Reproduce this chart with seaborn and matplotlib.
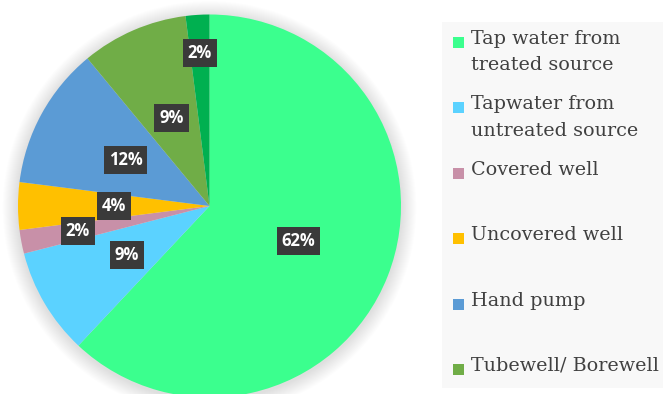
import matplotlib
matplotlib.use("Agg")
import matplotlib.pyplot as plt
from matplotlib.patches import Rectangle, Circle
import numpy as np
import seaborn as sns

categories = ["Tap water from\ntreated source", "Tapwater from\nuntreated source",
              "Covered well", "Uncovered well", "Hand pump", "Tubewell/ Borewell", "Others"]
values = [62, 9, 2, 4, 12, 9, 2]
legend_count = 6
colors = ["#3BFF8E", "#5BD2FF", "#C890A8", "#FFC000", "#5B9BD5", "#70AD47", "#00B050"]
label_dist = [0.5, 0.5, 0.70, 0.5, 0.5, 0.5, 0.80]

sns.set_theme(style="white")
plt.rcParams['font.family'] = ['DejaVu Sans']

W, H = 663, 394
fig = plt.figure(figsize=(W / 100, H / 100), dpi=100)
fig.patch.set_facecolor("white")

# legend panel background
fig.patches.append(Rectangle((442 / W, 1 - 388 / H), (W - 442) / W, (388 - 22) / H,
                             transform=fig.transFigure, facecolor="#F8F8F8",
                             edgecolor="none", zorder=0))

cx, cy, r = 209.5, 206, 191.5
ax = fig.add_axes([(cx - r) / W, (H - cy - r) / H, 2 * r / W, 2 * r / H])

wedges, _ = ax.pie(values, colors=colors, startangle=90, counterclock=False,
                   radius=1.0, wedgeprops=dict(linewidth=0))
for w in wedges:
    w.set_zorder(2)
ax.set_xlim(-1, 1)
ax.set_ylim(-1, 1)
ax.set_aspect("equal")
ax.axis("off")

# soft shadow
n = 16
for k in range(n):
    ax.add_patch(Circle((0.0, -0.01), 1.0 + 0.005 * (n - k), facecolor="black",
                        alpha=0.008, edgecolor="none", clip_on=False, zorder=0))

for w, v, d in zip(wedges, values, label_dist):
    ang = np.deg2rad((w.theta1 + w.theta2) / 2)
    x, y = d * np.cos(ang), d * np.sin(ang)
    ax.text(x, y, f"{v}%", ha="center", va="center", color="white",
            fontsize=12, fontweight="bold", family=["Open Sans", "DejaVu Sans"], zorder=5,
            bbox=dict(boxstyle="square,pad=0.3", facecolor="#3A3A3A", edgecolor="none"))

# legend
y0, dy = 42, 65.4
for i in range(legend_count):
    yc = y0 + i * dy
    fig.patches.append(Rectangle((453 / W, 1 - (yc + 6) / H), 11 / W, 11 / H,
                                 transform=fig.transFigure, facecolor=colors[i],
                                 edgecolor="none", zorder=3))
    fig.text(471 / W, 1 - (yc - 12) / H, categories[i], ha="left", va="top",
             fontsize=13.8, color="#404040", family=["DejaVu Serif"],
             linespacing=1.6)

fig.savefig("out.png", dpi=100)
